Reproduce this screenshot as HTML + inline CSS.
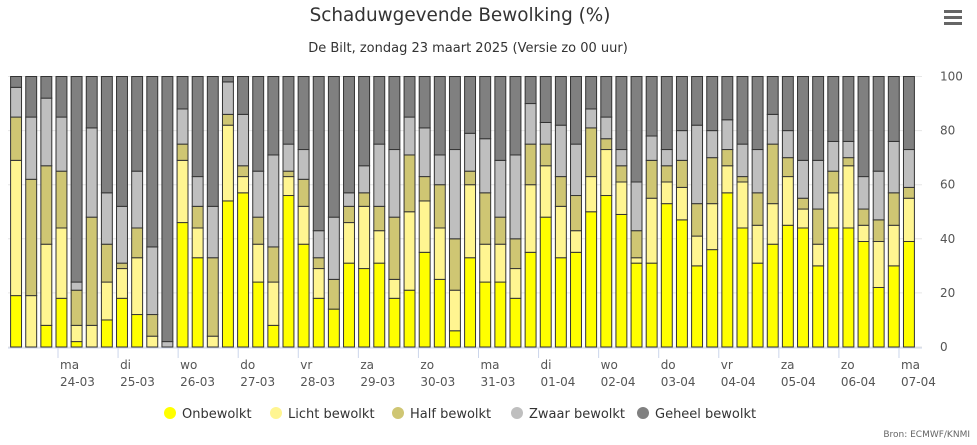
<!DOCTYPE html>
<html><head><meta charset="utf-8"><style>
body{margin:0;background:#fff;font-family:"DejaVu Sans","Liberation Sans",sans-serif}
svg{display:block;font-family:"DejaVu Sans","Liberation Sans",sans-serif}
</style></head><body>
<svg id="c" width="977" height="445">
<text x="460" y="21" text-anchor="middle" font-size="18.4" fill="#333">Schaduwgevende Bewolking (%)</text>
<text x="468" y="52" text-anchor="middle" font-size="13" fill="#333">De Bilt, zondag 23 maart 2025 (Versie zo 00 uur)</text>
<g><rect x="944" y="10" width="18" height="3" fill="#666"/><rect x="944" y="16" width="18" height="3" fill="#666"/><rect x="944" y="22" width="18" height="3" fill="#666"/></g>
<g id="grid"></g><g id="bars"></g><g id="axes"></g><g id="legend"></g>
<text x="970" y="437" text-anchor="end" font-size="9" fill="#666">Bron: ECMWF/KNMI</text>
</svg>
<script>
const dayLabels=["ma","di","wo","do","vr","za","zo","ma","di","wo","do","vr","za","zo","ma"];
const dateLabels=["24-03","25-03","26-03","27-03","28-03","29-03","30-03","31-03","01-04","02-04","03-04","04-04","05-04","06-04","07-04"];
const yTicks=[0,20,40,60,80,100];
const onbewolkt=[19,0,8,18,2,0,10,18,12,0,0,46,33,0,54,57,24,8,56,38,18,14,31,29,31,18,21,35,25,6,33,24,24,18,35,48,33,35,50,56,49,31,31,53,47,30,36,57,44,31,38,45,44,30,44,44,39,22,30,39];
const licht=[50,19,30,26,6,8,14,11,21,4,0,23,11,4,28,6,14,16,7,14,11,0,15,23,12,7,29,19,19,15,27,14,14,11,25,19,19,8,13,17,12,2,24,8,12,11,17,10,17,14,15,18,7,8,13,23,6,17,15,16];
const half=[16,43,29,21,13,40,14,2,11,8,0,6,8,29,4,4,10,13,2,10,4,11,6,5,9,23,21,9,16,19,5,19,10,11,15,8,11,13,18,4,6,10,14,6,10,12,17,6,2,12,22,7,4,13,8,3,6,8,12,4];
const zwaar=[11,23,25,20,3,33,19,21,21,25,2,13,11,19,12,19,17,34,10,11,10,23,5,10,23,25,14,18,11,33,14,20,21,31,15,8,19,19,7,8,6,18,9,6,11,29,10,11,12,16,11,10,14,18,11,6,12,18,19,14];
const geheel=onbewolkt.map((v,i)=>100-v-licht[i]-half[i]-zwaar[i]);
const seriesNames=["Onbewolkt","Licht bewolkt","Half bewolkt","Zwaar bewolkt","Geheel bewolkt"];
const series=[onbewolkt,licht,half,zwaar,geheel];
const colors=["#ffff00","#fff591","#cfc673","#bfbfbf","#808080"];
const NS="http://www.w3.org/2000/svg";
const L=8,R=916,T=76.5,B=347;
const n=onbewolkt.length,cw=(R-L)/n;
const y=v=>B-(B-T)*v/100;
const x=i=>L+cw*i;
function mk(t,a,p){const e=document.createElementNS(NS,t);for(const k in a)e.setAttribute(k,a[k]);p.appendChild(e);return e;}
const grid=document.getElementById('grid'),bars=document.getElementById('bars'),axes=document.getElementById('axes'),leg=document.getElementById('legend');
yTicks.forEach(v=>{
 const l=mk('line',{x1:L,x2:922,y1:y(v),y2:y(v),stroke:'#e6e6e6'},grid);
 
 
 const t=mk('text',{x:940,y:y(v)+4,'font-size':12,fill:'#555'},axes);
 t.textContent=v;
 
 
});
for(let i=0;i<n;i++){
 let acc=0;
 series.forEach((s,k)=>{
  const v=s[i];if(v<=0){return;}
  const r=mk('rect',{x:x(i)+2.1+0.5,y:y(acc+v),width:cw-4.2,height:y(acc)-y(acc+v),fill:colors[k],stroke:'#333','stroke-width':1},bars);
  
  
  acc+=v;
 });
}
mk('line',{x1:L,x2:922,y1:B+1,y2:B+1,stroke:'#ccd6eb'},axes);
dayLabels.forEach((d,k)=>{
 const tx=58+60.07*k;
 mk('line',{x1:tx,x2:tx,y1:B+1,y2:B+11,stroke:'#ccd6eb'},axes);
 const t=mk('text',{x:tx+2,y:369,'font-size':12,fill:'#555'},axes);
 t.textContent=d;
 
 
 const t2=mk('text',{x:tx+2,y:386,'font-size':12,fill:'#555'},axes);
 t2.textContent=dateLabels[k];
 
 
});
const lx=[170,276,398,517,643];
seriesNames.forEach((s,k)=>{
 const g=mk('g',{},leg);
 
 
 mk('circle',{cx:lx[k],cy:413,r:6,fill:colors[k]},g);
 const t=mk('text',{x:lx[k]+12,y:418,'font-size':13,fill:'#333'},g);
 t.textContent=s;
});
</script>
</body></html>
